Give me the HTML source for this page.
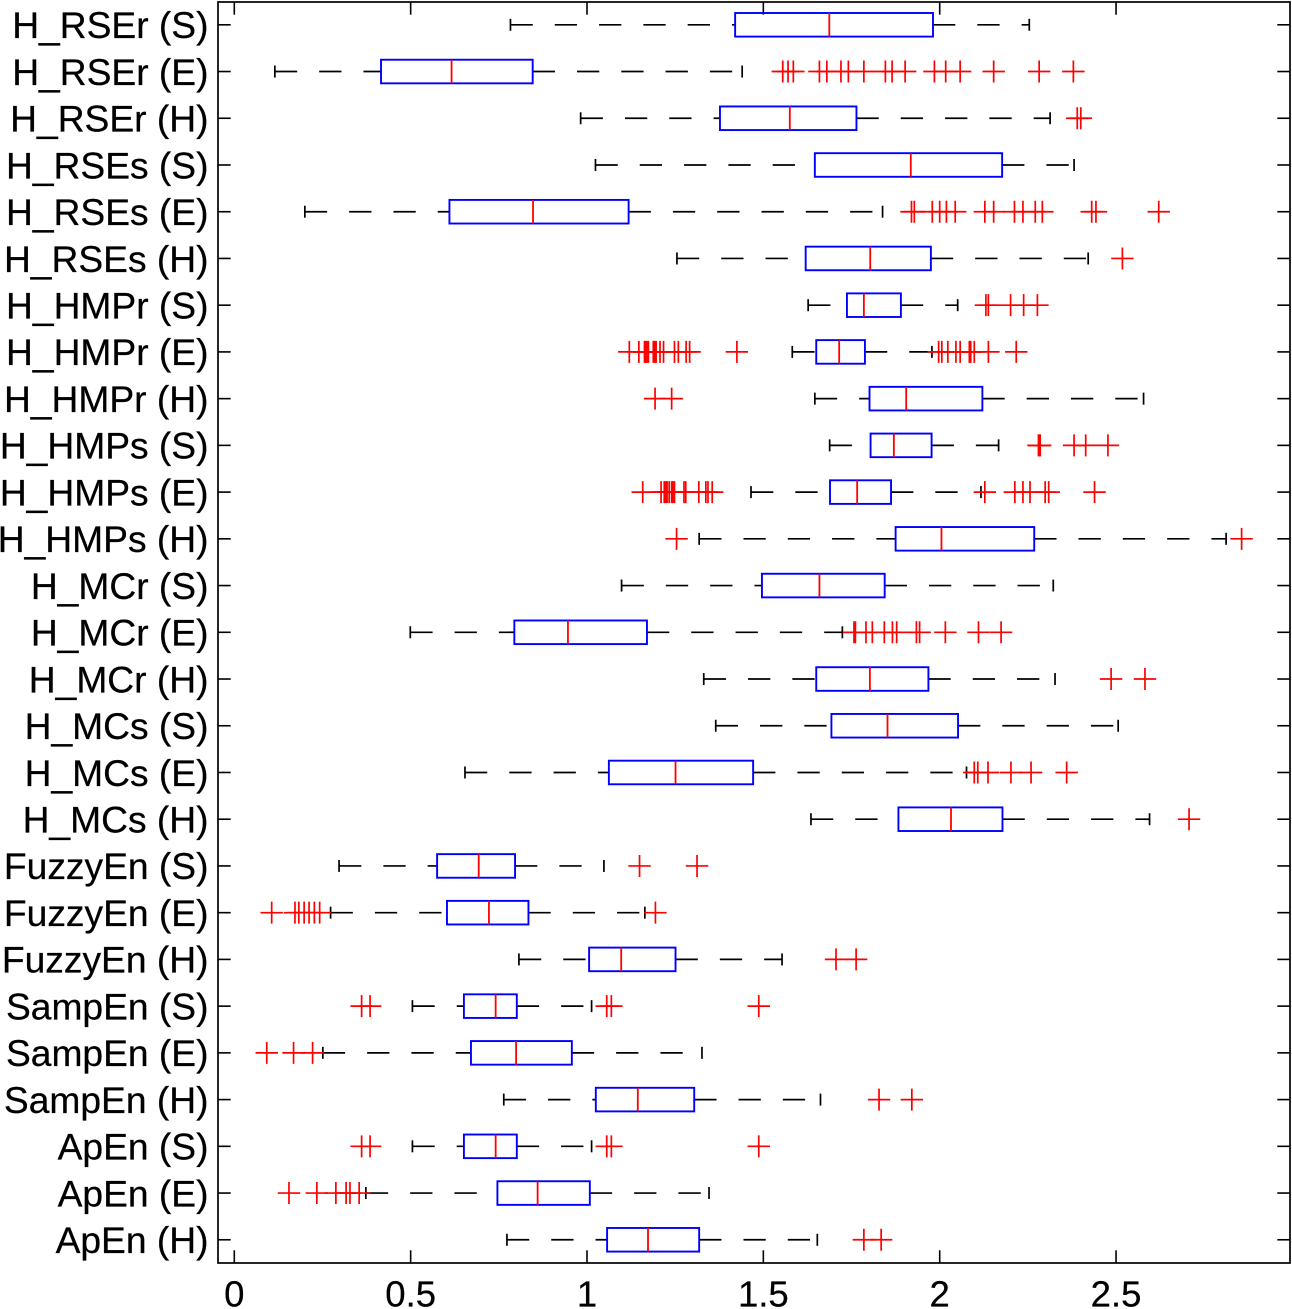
<!DOCTYPE html>
<html lang="en">
<head>
<meta charset="utf-8">
<title>Horizontal box plot of entropy features</title>
<style>
html,body{margin:0;padding:0;background:#fff;}
svg{display:block;}
text{font-family:"Liberation Sans",Arial,sans-serif;fill:#000;stroke:#000;stroke-width:0.25px;}
</style>
</head>
<body>
<svg id="chart" xmlns="http://www.w3.org/2000/svg" width="1292" height="1309" viewBox="0 0 1292 1309"></svg>
<script>
const categories = ["H_RSEr (S)","H_RSEr (E)","H_RSEr (H)","H_RSEs (S)","H_RSEs (E)","H_RSEs (H)","H_HMPr (S)","H_HMPr (E)","H_HMPr (H)","H_HMPs (S)","H_HMPs (E)","H_HMPs (H)","H_MCr (S)","H_MCr (E)","H_MCr (H)","H_MCs (S)","H_MCs (E)","H_MCs (H)","FuzzyEn (S)","FuzzyEn (E)","FuzzyEn (H)","SampEn (S)","SampEn (E)","SampEn (H)","ApEn (S)","ApEn (E)","ApEn (H)"];
const lowWhisker = [0.783,0.115,0.982,1.024,0.200,1.255,1.627,1.582,1.646,1.688,1.465,1.318,1.098,0.499,1.331,1.365,0.654,1.635,0.297,0.273,0.807,0.505,0.251,0.764,0.505,0.373,0.773];
const quartile1 = [1.420,0.416,1.377,1.646,0.610,1.620,1.737,1.650,1.801,1.804,1.689,1.875,1.496,0.794,1.650,1.693,1.062,1.883,0.575,0.603,1.006,0.651,0.671,1.025,0.651,0.746,1.057];
const medians = [1.687,0.616,1.575,1.918,0.847,1.803,1.785,1.715,1.905,1.870,1.766,2.005,1.659,0.946,1.802,1.852,1.251,2.032,0.693,0.722,1.097,0.741,0.799,1.144,0.741,0.860,1.173];
const quartile3 = [1.981,0.846,1.764,2.177,1.118,1.975,1.890,1.788,2.121,1.977,1.862,2.268,1.844,1.170,1.968,2.052,1.471,2.178,0.796,0.834,1.251,0.801,0.957,1.304,0.801,1.008,1.318];
const highWhisker = [2.254,1.440,2.313,2.381,1.838,2.421,2.051,1.978,2.578,2.167,2.117,2.812,2.322,1.724,2.327,2.506,2.076,2.595,1.048,1.164,1.553,1.013,1.326,1.662,1.013,1.346,1.653];
const outliers = [
  [],
  [1.555,1.570,1.585,1.659,1.680,1.720,1.741,1.785,1.846,1.865,1.902,1.985,2.017,2.058,2.153,2.282,2.379],
  [2.390,2.400],
  [],
  [1.920,1.928,1.979,2.000,2.019,2.044,2.128,2.153,2.212,2.236,2.271,2.291,2.431,2.443,2.621],
  [2.518],
  [2.131,2.138,2.201,2.238,2.277],
  [1.120,1.147,1.163,1.166,1.170,1.174,1.188,1.192,1.196,1.207,1.217,1.248,1.259,1.281,1.291,1.425,1.997,2.006,2.023,2.046,2.058,2.084,2.088,2.098,2.138,2.217],
  [1.193,1.240],
  [2.280,2.282,2.285,2.381,2.414,2.477],
  [1.158,1.210,1.219,1.223,1.227,1.233,1.240,1.244,1.248,1.275,1.280,1.317,1.337,1.343,1.355,2.128,2.213,2.236,2.256,2.299,2.309,2.439],
  [1.254,2.856],
  [],
  [1.757,1.761,1.791,1.809,1.843,1.866,1.878,1.934,1.943,2.016,2.110,2.174],
  [2.486,2.582],
  [],
  [2.098,2.108,2.137,2.202,2.259,2.360],
  [2.707],
  [1.149,1.312],
  [0.106,0.172,0.183,0.198,0.212,0.227,0.242,1.194],
  [1.706,1.763],
  [0.361,0.385,1.056,1.069,1.487],
  [0.092,0.168,0.222],
  [1.828,1.921],
  [0.361,0.385,1.056,1.069,1.487],
  [0.155,0.234,0.288,0.317,0.328,0.354],
  [1.785,1.834]
];
const xTickValues = [0,0.5,1,1.5,2,2.5];
const xTickLabels = ["0","0.5","1","1.5","2","2.5"];

const svg = document.getElementById('chart');
const NS = 'http://www.w3.org/2000/svg';
const plot = {left:218, right:1290, top:2, bottom:1263};
function xScale(v){ return 234.3 + 352.7 * v; }
function yScale(i){ return 24.8 + 46.73 * i; }
function make(tag, attrs, parent){
  const el = document.createElementNS(NS, tag);
  for (const k in attrs) el.setAttribute(k, attrs[k]);
  parent.appendChild(el);
  return el;
}
function seg(x1,y1,x2,y2,color,w,parent,dash){
  const a = {x1:x1,y1:y1,x2:x2,y2:y2,stroke:color,'stroke-width':w};
  if (dash) a['stroke-dasharray'] = dash;
  return make('line', a, parent);
}

const axes = make('g', {}, svg);


const frame = make('rect', {x:plot.left,y:plot.top,width:plot.right-plot.left,height:plot.bottom-plot.top,fill:'none',stroke:'#000','stroke-width':1.7}, axes);



xTickValues.forEach(function(v,i){
  const g = make('g', {}, axes);
  
  
  const x = xScale(v);
  seg(x,plot.bottom,x,plot.bottom-12.7,'#000',1.6,g);
  seg(x,plot.top,x,plot.top+12.7,'#000',1.6,g);
  const t = make('text', {x:x,y:1306.5,'font-size':36.5,'text-anchor':'middle'}, g);
  
  
  t.textContent = xTickLabels[i];
});

categories.forEach(function(name,i){
  const y = yScale(i);
  const g = make('g', {}, svg);
  
  
  seg(plot.left,y,plot.left+12.7,y,'#000',1.6,g);
  seg(plot.right,y,plot.right-12.7,y,'#000',1.6,g);
  const t = make('text', {x:208.5,y:y+13.3,'font-size':37.2,'text-anchor':'end'}, g);
  
  
  t.textContent = name;

  const lowW = make('line', {x1:xScale(lowWhisker[i]),y1:y,x2:xScale(quartile1[i]),y2:y,stroke:'#000','stroke-width':1.7,'stroke-dasharray':'22.3 22'}, g);
  
  
  const highW = make('line', {x1:xScale(quartile3[i]),y1:y,x2:xScale(highWhisker[i]),y2:y,stroke:'#000','stroke-width':1.7,'stroke-dasharray':'22.3 22'}, g);
  
  
  const capL = seg(xScale(lowWhisker[i]),y-6,xScale(lowWhisker[i]),y+6,'#000',1.7,g);
  
  
  const capH = seg(xScale(highWhisker[i]),y-6,xScale(highWhisker[i]),y+6,'#000',1.7,g);
  
  

  const box = make('rect', {x:xScale(quartile1[i]),y:y-11.8,width:xScale(quartile3[i])-xScale(quartile1[i]),height:23.6,fill:'none',stroke:'#0000ff','stroke-width':1.9}, g);
  
  
  const med = seg(xScale(medians[i]),y-11.8,xScale(medians[i]),y+11.8,'#ff0000',1.8,g);
  
  

  outliers[i].forEach(function(v){
    const p = make('path', {d:'M'+(xScale(v)-11.2)+' '+y+'H'+(xScale(v)+11.2)+'M'+xScale(v)+' '+(y-11)+'V'+(y+11),fill:'none',stroke:'#ff0000','stroke-width':1.7}, g);
    
    
  });
});
</script>
</body>
</html>
